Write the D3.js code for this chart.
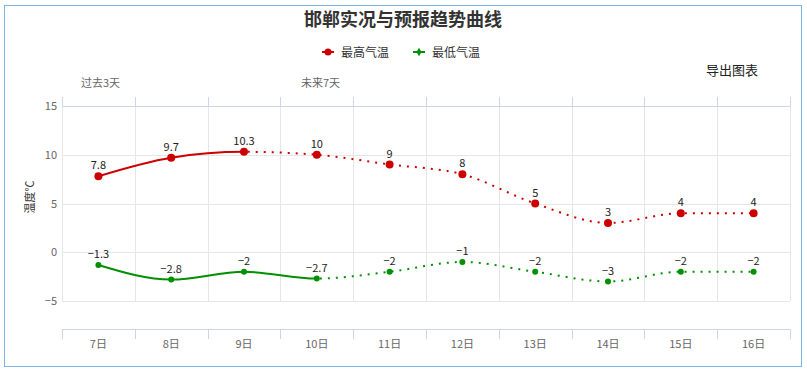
<!DOCTYPE html>
<html><head><meta charset="utf-8">
<script src="https://cdn.jsdelivr.net/npm/d3@7"></script>
<style>body{margin:0;background:#fff;}svg{display:block;font-family:"Noto Sans CJK SC","Noto Sans",sans-serif;}</style>
</head><body>
<svg id="c" width="807" height="369"></svg>
<script>
const categories = ["7日","8日","9日","10日","11日","12日","13日","14日","15日","16日"];
const highTemps = [7.8, 9.7, 10.3, 10, 9, 8, 5, 3, 4, 4];
const lowTemps = [-1.3, -2.8, -2, -2.7, -2, -1, -2, -3, -2, -2];
const yTicks = [-5, 0, 5, 10, 15];
const highLastActual = 2;
const lowLastActual = 3;
const title = "邯郸实况与预报趋势曲线";
const seriesNames = ["最高气温","最低气温"];
const colors = ["#cc0000","#009000"];

const svg = d3.select("#c");
svg.append("rect").attr("x",4.5).attr("y",5.5).attr("width",797).attr("height",361)
  .attr("fill","#fff").attr("stroke","#7cb5ec").attr("stroke-width",1);

const x = d3.scaleBand().domain(categories).range([62,790]);
const cx = d => x(d) + x.bandwidth()/2;
const y = d3.scaleLinear().domain([-5,15]).range([301,106]);
const plotTop = 106, plotBottom = 301, axisY = 329;

// grid
const g = svg.append("g");
g.selectAll(".hg").data(yTicks).enter().append("line")
  .attr("x1",62).attr("x2",790).attr("y1",d=>Math.round(y(d))+0.5).attr("y2",d=>Math.round(y(d))+0.5)
  .attr("stroke","#e6e6e6");
const bounds = categories.map(c=>x(c)).concat([x.range()[1]]);
g.selectAll(".vg").data(bounds).enter().append("line")
  .attr("x1",d=>Math.round(d)+0.5).attr("x2",d=>Math.round(d)+0.5).attr("y1",plotTop).attr("y2",plotBottom)
  .attr("stroke","#e6e6e6");

// top axis
g.append("line").attr("x1",62).attr("x2",790).attr("y1",plotTop+0.5).attr("y2",plotTop+0.5).attr("stroke","#ccd6eb");
g.selectAll(".tt").data(bounds).enter().append("line")
  .attr("x1",d=>Math.round(d)+0.5).attr("x2",d=>Math.round(d)+0.5).attr("y1",97).attr("y2",plotTop)
  .attr("stroke","#ccd6eb");
// bottom axis
g.append("line").attr("x1",62).attr("x2",790).attr("y1",axisY+0.5).attr("y2",axisY+0.5).attr("stroke","#ccd6eb");
g.selectAll(".bt").data(bounds).enter().append("line")
  .attr("x1",d=>Math.round(d)+0.5).attr("x2",d=>Math.round(d)+0.5).attr("y1",axisY).attr("y2",axisY+10)
  .attr("stroke","#ccd6eb");
g.selectAll(".xl").data(categories).enter().append("text")
  .attr("x",d=>cx(d)).attr("y",348).attr("text-anchor","middle")
  .attr("font-size",11).attr("fill","#666").text(d=>d);

// y labels
g.selectAll(".yl").data(yTicks).enter().append("text")
  .attr("x",57).attr("y",d=>y(d)+4).attr("text-anchor","end")
  .attr("font-size",11).attr("fill","#666").text(d=>d<0?"−"+Math.abs(d):d);
svg.append("text").attr("transform","translate(34,197) rotate(-90)").attr("text-anchor","middle")
  .attr("font-size",11).attr("fill","#333").text("温度℃");

// title, legend
svg.append("text").attr("x",403).attr("y",26).attr("text-anchor","middle")
  .attr("font-size",18).attr("font-weight","bold").attr("fill","#333").text(title);
const legX = [322, 413];
seriesNames.forEach((n,i)=>{
  const lg = svg.append("g");
  lg.append("line").attr("x1",legX[i]).attr("x2",legX[i]+12).attr("y1",52).attr("y2",52)
    .attr("stroke",colors[i]).attr("stroke-width",2);
  if(i===0) lg.append("circle").attr("cx",legX[i]+6).attr("cy",52).attr("r",3.5).attr("fill",colors[i]);
  else lg.append("path").attr("d",d3.symbol(d3.symbolDiamond,22)()).attr("transform",`translate(${legX[i]+6},52)`).attr("fill",colors[i]);
  lg.append("text").attr("x",legX[i]+19).attr("y",56.5).attr("font-size",12).attr("fill","#333").text(n);
});
svg.append("text").attr("x",706).attr("y",75).attr("font-size",13).attr("fill","#222").text("导出图表");
svg.append("text").attr("x",81).attr("y",87).attr("font-size",11).attr("fill","#666").text("过去3天");
svg.append("text").attr("x",301).attr("y",87).attr("font-size",11).attr("fill","#666").text("未来7天");

// series
const defs = svg.append("defs");
function drawSeries(vals, lastActual, color, idx, markerR){
  const line = d3.line().x((d,i)=>cx(categories[i])).y(d=>y(d)).curve(d3.curveMonotoneX);
  const splitX = cx(categories[lastActual]);
  defs.append("clipPath").attr("id","ca"+idx).append("rect").attr("x",0).attr("y",0).attr("width",splitX).attr("height",369);
  defs.append("clipPath").attr("id","cf"+idx).append("rect").attr("x",splitX).attr("y",0).attr("width",807-splitX).attr("height",369);
  svg.append("path").datum(vals).attr("d",line).attr("fill","none").attr("stroke",color).attr("stroke-width",2)
    .attr("clip-path",`url(#ca${idx})`);
  svg.append("path").datum(vals).attr("d",line).attr("fill","none").attr("stroke",color).attr("stroke-width",2)
    .attr("stroke-dasharray","2,6").attr("clip-path",`url(#cf${idx})`);
  svg.selectAll(".m"+idx).data(vals).enter().append("circle")
    .attr("cx",(d,i)=>cx(categories[i])).attr("cy",d=>y(d)).attr("r",markerR).attr("fill",color);
  svg.selectAll(".l"+idx).data(vals).enter().append("text")
    .attr("x",(d,i)=>cx(categories[i])).attr("y",d=>y(d)-7).attr("text-anchor","middle")
    .attr("font-size",11).attr("fill","#222").text(d=>d<0?"−"+Math.abs(d):d);
}
drawSeries(highTemps, highLastActual, colors[0], 0, 4);
drawSeries(lowTemps, lowLastActual, colors[1], 1, 3);
</script>
</body></html>
